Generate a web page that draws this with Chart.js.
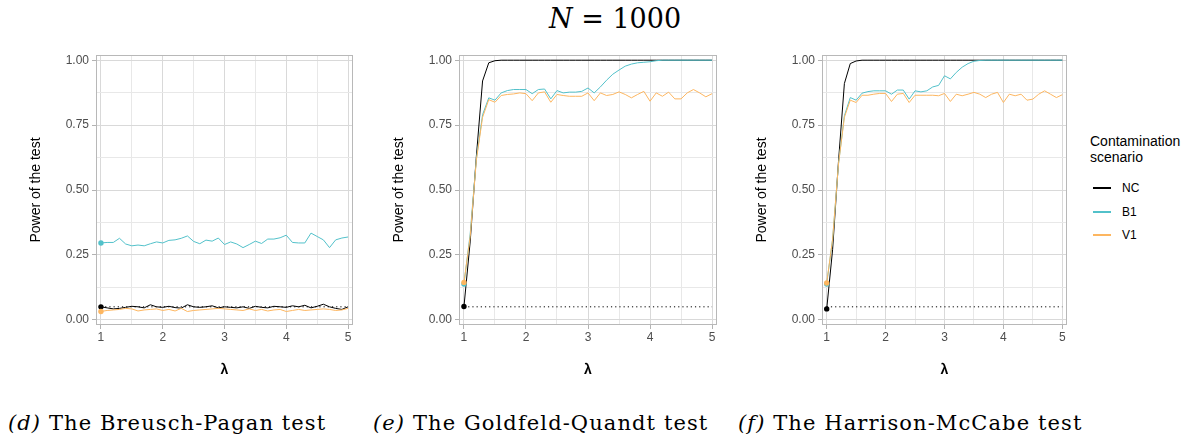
<!DOCTYPE html>
<html lang="en">
<head>
<meta charset="UTF-8" />
<title>Power of the test, N = 1000</title>
<script src="https://cdn.jsdelivr.net/npm/chart.js@4.4.1/dist/chart.umd.min.js"></script>
<style>
  body { margin: 0; background: #fff; }
  #wrap { position: relative; width: 1196px; height: 442px; overflow: hidden; }
  canvas { position: absolute; top: 0; }
  .main { position: absolute; left: 549px; top: 3px; font-family: "DejaVu Serif", serif; font-size: 27px; white-space: nowrap; }
  .cap { position: absolute; top: 411px; font-family: "DejaVu Serif", serif; font-size: 21px; letter-spacing: 1.1px; white-space: nowrap; }
  .legend { position: absolute; left: 1090px; top: 133px; font-family: Arial, "Liberation Sans", sans-serif; }
  .legend .lt { font-size: 14px; line-height: 16px; color: #000; }
  .legend .it { position: relative; height: 23.5px; font-size: 12px; }
  .legend .ln { position: absolute; left: 3px; top: 9px; width: 18px; height: 2px; }
  .legend .tx { position: absolute; left: 32px; top: 3px; }
</style>
</head>
<body>
<div id="wrap">
  <div class="main"><i>N</i> = 1000</div>
  <canvas id="bp" width="360" height="390" style="left:0px"></canvas>
  <canvas id="gq" width="370" height="390" style="left:360px"></canvas>
  <canvas id="hm" width="345" height="390" style="left:730px"></canvas>
  <div class="cap" style="left:8px"><i>(d)</i> The Breusch-Pagan test</div>
  <div class="cap" style="left:373px"><i>(e)</i> The Goldfeld-Quandt test</div>
  <div class="cap" style="left:738px"><i>(f)</i> The Harrison-McCabe test</div>
  <div class="legend" id="legend"></div>
</div>
<script>
// lambda grid
const lambda = [1.0,1.1,1.2,1.3,1.4,1.5,1.6,1.7,1.8,1.9,2.0,2.1,2.2,2.3,2.4,2.5,2.6,2.7,2.8,2.9,3.0,
  3.1,3.2,3.3,3.4,3.5,3.6,3.7,3.8,3.9,4.0,4.1,4.2,4.3,4.4,4.5,4.6,4.7,4.8,4.9,5.0];

const seriesNames = ['NC', 'B1', 'V1'];
const seriesColors = ['#000000', '#52c1ca', '#fdb660'];
const nominalLevel = 0.05;

// (d) Breusch-Pagan
const bpNC = [0.050,0.046,0.042,0.044,0.048,0.052,0.050,0.046,0.058,0.050,0.048,0.052,0.047,0.045,0.058,0.050,
  0.048,0.050,0.054,0.046,0.050,0.048,0.046,0.050,0.044,0.052,0.048,0.046,0.052,0.050,0.048,0.054,0.050,0.056,
  0.046,0.052,0.060,0.050,0.044,0.040,0.050];
const bpB1 = [0.296,0.298,0.298,0.314,0.292,0.285,0.288,0.285,0.293,0.300,0.296,0.306,0.308,0.314,0.323,0.302,
  0.293,0.307,0.303,0.315,0.290,0.300,0.292,0.278,0.290,0.303,0.294,0.311,0.311,0.316,0.326,0.298,0.296,0.296,
  0.334,0.321,0.308,0.278,0.308,0.315,0.319];
const bpV1 = [0.032,0.036,0.038,0.040,0.044,0.042,0.034,0.038,0.040,0.042,0.036,0.040,0.034,0.044,0.032,0.036,
  0.038,0.040,0.042,0.044,0.042,0.040,0.038,0.036,0.042,0.036,0.040,0.034,0.038,0.040,0.032,0.036,0.040,0.036,
  0.038,0.040,0.042,0.040,0.036,0.038,0.044];

// (e) Goldfeld-Quandt
const gqNC = [0.051,0.300,0.630,0.920,0.990,0.998,1,1,1,1,1,1,1,1,1,1,1,1,1,1,1,1,1,1,1,1,1,1,1,1,1,1,1,1,1,1,1,1,1,1,1];
const gqB1 = [0.138,0.330,0.620,0.790,0.855,0.846,0.874,0.883,0.887,0.887,0.887,0.871,0.887,0.889,0.851,0.883,
  0.874,0.877,0.877,0.880,0.893,0.874,0.897,0.923,0.946,0.962,0.977,0.985,0.990,0.992,0.994,0.998,1,1,1,1,1,1,1,1,1];
const gqV1 = [0.144,0.320,0.615,0.780,0.848,0.838,0.864,0.868,0.870,0.874,0.871,0.844,0.874,0.878,0.838,0.868,
  0.864,0.861,0.861,0.861,0.874,0.844,0.874,0.864,0.868,0.878,0.868,0.855,0.868,0.880,0.842,0.874,0.861,0.877,
  0.851,0.851,0.874,0.887,0.874,0.859,0.871];

// (f) Harrison-McCabe
const hmNC = [0.042,0.270,0.610,0.910,0.987,0.997,1,1,1,1,1,1,1,1,1,1,1,1,1,1,1,1,1,1,1,1,1,1,1,1,1,1,1,1,1,1,1,1,1,1,1];
const hmB1 = [0.138,0.310,0.600,0.786,0.856,0.846,0.873,0.879,0.882,0.882,0.882,0.869,0.885,0.885,0.850,0.882,
  0.878,0.882,0.897,0.903,0.940,0.928,0.953,0.973,0.987,0.996,0.999,1,1,1,1,1,1,1,1,1,1,1,1,1,1];
const hmV1 = [0.142,0.310,0.600,0.780,0.846,0.837,0.865,0.865,0.869,0.872,0.872,0.841,0.869,0.872,0.837,0.865,
  0.865,0.865,0.865,0.863,0.872,0.841,0.869,0.863,0.869,0.876,0.869,0.856,0.869,0.876,0.837,0.869,0.863,0.869,
  0.846,0.850,0.869,0.882,0.869,0.856,0.867];

// ticks (minor ones get a grid line but no label)
const xTicks = [1, 1.5, 2, 2.5, 3, 3.5, 4, 4.5, 5];
const xTickLabels = ['1', '2', '3', '4', '5'];
const yTicks = [0, 0.125, 0.25, 0.375, 0.5, 0.625, 0.75, 0.875, 1];
const yTickLabels = ['0.00', '0.25', '0.50', '0.75', '1.00'];

Chart.defaults.font.family = 'Arial, "Liberation Sans", sans-serif';

const onQuarter = v => Math.abs(v * 4 - Math.round(v * 4)) < 1e-9;

const framePlugin = {
  id: 'frame',
  afterDraw(chart) {
    const a = chart.chartArea, ctx = chart.ctx;
    ctx.save();
    ctx.strokeStyle = '#b8b8b8';
    ctx.lineWidth = 1;
    ctx.strokeRect(Math.round(a.left) + 0.5, Math.round(a.top) + 0.5,
      Math.round(a.right - a.left) - 1, Math.round(a.bottom - a.top) - 1);
    ctx.restore();
  }
};

function toPoints(ys) {
  return ys.map((y, i) => ({ x: lambda[i], y: y }));
}

function makeChart(id, values, box) {
  const datasets = values.map((ys, k) => ({
    label: seriesNames[k],
    data: toPoints(ys),
    borderColor: seriesColors[k],
    backgroundColor: seriesColors[k],
    borderWidth: 1,
    pointRadius: c => c.dataIndex === 0 ? 2.7 : 0,
    pointBorderWidth: 0,
    order: 3 - k
  }));
  datasets.push({
    label: 'level',
    data: [{ x: lambda[0], y: nominalLevel }, { x: lambda[lambda.length - 1], y: nominalLevel }],
    borderColor: '#000',
    borderWidth: 1,
    borderDash: [1.2, 3],
    pointRadius: 0,
    order: 4
  });

  // major vs minor grid, per axis
  const xMajor = v => Number.isInteger(v);
  const yMajor = v => onQuarter(v);
  const grid = major => ({
    color: c => major(c.tick.value) ? '#d9d9d9' : '#e8e8e8',
    lineWidth: 1,
    tickColor: c => major(c.tick.value) ? '#b3b3b3' : 'rgba(0,0,0,0)',
    tickLength: 4,
    drawTicks: true
  });

  return new Chart(document.getElementById(id), {
    type: 'line',
    data: { datasets: datasets },
    options: {
      responsive: false,
      animation: false,
      devicePixelRatio: 1,
      layout: { padding: { top: 55, right: box.right, left: 0, bottom: 0 } },
      plugins: { legend: { display: false }, tooltip: { enabled: false } },
      scales: {
        x: {
          type: 'linear', min: 0.92, max: 5.08,
          afterBuildTicks: s => { s.ticks = xTicks.map(v => ({ value: v })); },
          afterFit: s => { s.height = 65; },
          ticks: {
            autoSkip: false, maxRotation: 0, padding: 1, color: '#4d4d4d', font: { size: 12 },
            callback: v => Number.isInteger(v) ? xTickLabels[v - 1] : ''
          },
          grid: grid(xMajor),
          border: { display: false },
          title: { display: true, text: 'λ', color: '#000', font: { size: 14, weight: 'bold' }, padding: { top: 0, bottom: 11.6 } }
        },
        y: {
          type: 'linear', min: -0.02, max: 1.02,
          afterBuildTicks: s => { s.ticks = yTicks.map(v => ({ value: v })); },
          afterFit: s => { s.width = box.axisW; },
          ticks: {
            autoSkip: false, padding: 3, color: '#4d4d4d', font: { size: 12 },
            callback: v => onQuarter(v) ? yTickLabels[Math.round(v * 4)] : ''
          },
          grid: grid(yMajor),
          border: { display: false },
          title: { display: true, text: 'Power of the test', color: '#000', font: { size: 14 }, padding: { top: box.titlePad, bottom: 0 } }
        }
      }
    },
    plugins: [framePlugin]
  });
}

makeChart('bp', [bpNC, bpB1, bpV1], { axisW: 96, right: 7, titlePad: 27.6 });
makeChart('gq', [gqNC, gqB1, gqV1], { axisW: 99, right: 13, titlePad: 30.6 });
makeChart('hm', [hmNC, hmB1, hmV1], { axisW: 92, right: 8, titlePad: 23.3 });

// legend built from the series arrays
const legend = document.getElementById('legend');
let html = '<div class="lt">Contamination<br>scenario</div><div style="height:13px"></div>';
seriesNames.forEach((n, i) => {
  html += '<div class="it"><div class="ln" style="background:' + seriesColors[i] + '"></div><div class="tx">' + n + '</div></div>';
});
legend.innerHTML = html;
</script>
</body>
</html>
